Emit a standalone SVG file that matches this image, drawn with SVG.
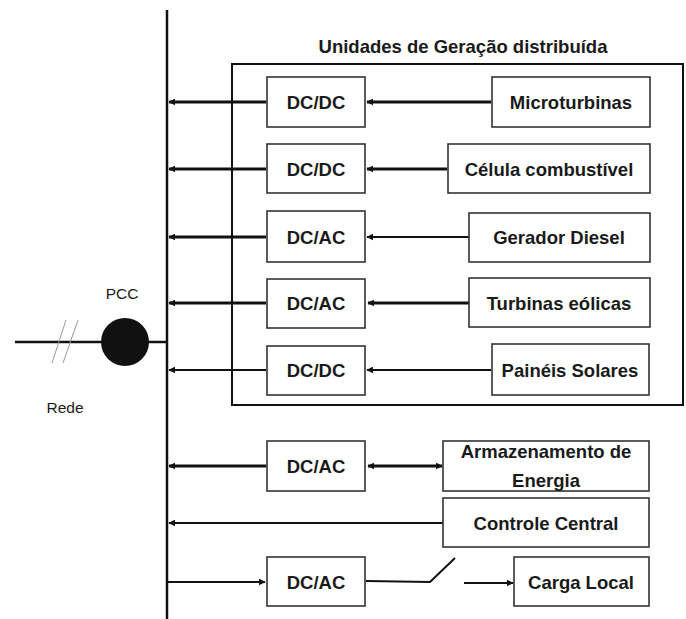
<svg xmlns="http://www.w3.org/2000/svg" width="686" height="619" viewBox="0 0 686 619">
<defs>
<marker id="ah" viewBox="0 0 10 10" refX="9" refY="5" markerWidth="7" markerHeight="7" markerUnits="userSpaceOnUse" orient="auto-start-reverse">
<path d="M0,0 L10,5 L0,10 z" fill="#111"/>
</marker>
</defs>
<style>
.box{fill:#fff;stroke:#333;stroke-width:1.6}
.t{font-family:"Liberation Sans",Arial,sans-serif;font-weight:bold;font-size:18.5px;fill:#1a1a1a;text-anchor:middle}
.lbl{font-family:"Liberation Sans",Arial,sans-serif;font-size:15.5px;fill:#1a1a1a;text-anchor:middle}
.thick{stroke:#111;stroke-width:3;fill:none}
.thin{stroke:#111;stroke-width:2;fill:none}
</style>
<rect width="686" height="619" fill="#fff"/>
<g id="bus">
<line x1="167" y1="10" x2="167" y2="619" stroke="#111" stroke-width="2.5"/>
</g>
<g id="gd-frame">
<rect x="232" y="64" width="451" height="341" fill="none" stroke="#111" stroke-width="2"/>
<text class="t" x="463" y="53">Unidades de Geração distribuída</text>
</g>
<g id="grid">
<line x1="15" y1="342" x2="167" y2="342" stroke="#111" stroke-width="2.5"/>
<line x1="52" y1="363" x2="66" y2="320" stroke="#999" stroke-width="1"/>
<line x1="63" y1="363" x2="78" y2="320" stroke="#999" stroke-width="1"/>
<circle cx="125" cy="342" r="24" fill="#111"/>
<text class="lbl" x="122" y="299">PCC</text>
<text class="lbl" x="65" y="413">Rede</text>
</g>
<g id="connectors">
<line class="thick" x1="266" y1="102" x2="169" y2="102" marker-end="url(#ah)"/>
<line class="thick" x1="266" y1="169" x2="169" y2="169" marker-end="url(#ah)"/>
<line class="thick" x1="266" y1="237" x2="169" y2="237" marker-end="url(#ah)"/>
<line class="thick" x1="266" y1="303" x2="169" y2="303" marker-end="url(#ah)"/>
<line class="thin" x1="266" y1="370" x2="169" y2="370" marker-end="url(#ah)"/>
<line class="thick" x1="266" y1="466" x2="169" y2="466" marker-end="url(#ah)"/>
<line class="thin" x1="443" y1="523" x2="169" y2="523" marker-end="url(#ah)"/>
<line class="thin" x1="168" y1="582" x2="265" y2="582" marker-end="url(#ah)"/>
<line class="thick" x1="491" y1="102" x2="367" y2="102" marker-end="url(#ah)"/>
<line class="thick" x1="447" y1="169" x2="367" y2="169" marker-end="url(#ah)"/>
<line class="thin" x1="469" y1="237" x2="367" y2="237" marker-end="url(#ah)"/>
<line class="thick" x1="469" y1="303" x2="368" y2="303" marker-end="url(#ah)"/>
<line class="thin" x1="491" y1="370" x2="367" y2="370" marker-end="url(#ah)"/>
<line class="thick" x1="368" y1="466" x2="442" y2="466" marker-start="url(#ah)" marker-end="url(#ah)"/>
<polyline class="thin" points="366,581 430,582 455,558"/>
<line class="thin" x1="464" y1="583" x2="513" y2="583" marker-end="url(#ah)"/>
</g>
<g id="conv1"><rect class="box" x="267" y="77" width="98" height="50"/><text class="t" x="316" y="109">DC/DC</text></g>
<g id="conv2"><rect class="box" x="267" y="144" width="98" height="49"/><text class="t" x="316" y="175.5">DC/DC</text></g>
<g id="conv3"><rect class="box" x="267" y="211" width="98" height="51"/><text class="t" x="316" y="243.5">DC/AC</text></g>
<g id="conv4"><rect class="box" x="267" y="279" width="98" height="49"/><text class="t" x="316" y="310">DC/AC</text></g>
<g id="conv5"><rect class="box" x="267" y="346" width="98" height="49"/><text class="t" x="316" y="377">DC/DC</text></g>
<g id="conv6"><rect class="box" x="267" y="441" width="98" height="50"/><text class="t" x="316" y="472.5">DC/AC</text></g>
<g id="conv7"><rect class="box" x="267" y="557" width="98" height="49"/><text class="t" x="316" y="588.5">DC/AC</text></g>
<g id="microturbinas"><rect class="box" x="492" y="77" width="158" height="50"/><text class="t" x="571" y="109">Microturbinas</text></g>
<g id="celula"><rect class="box" x="448" y="144" width="202" height="49"/><text class="t" x="549" y="175.5">Célula combustível</text></g>
<g id="diesel"><rect class="box" x="469" y="213" width="181" height="49"/><text class="t" x="559" y="244">Gerador Diesel</text></g>
<g id="eolicas"><rect class="box" x="469" y="278" width="181" height="49"/><text class="t" x="559" y="309.5">Turbinas eólicas</text></g>
<g id="solares"><rect class="box" x="492" y="344" width="157" height="51"/><text class="t" x="570" y="376.5">Painéis Solares</text></g>
<g id="armazenamento"><rect class="box" x="443" y="441" width="206" height="50"/><text class="t" x="546" y="458">Armazenamento de</text><text class="t" x="546" y="487">Energia</text></g>
<g id="controle"><rect class="box" x="443" y="498" width="206" height="49"/><text class="t" x="546" y="529.5">Controle Central</text></g>
<g id="carga"><rect class="box" x="514" y="557" width="135" height="49"/><text class="t" x="581" y="588.5">Carga Local</text></g>
</svg>
